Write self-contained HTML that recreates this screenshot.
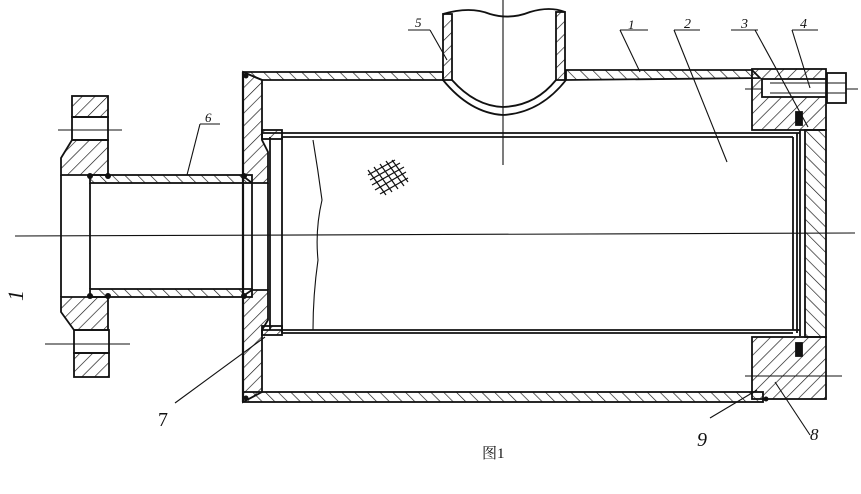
<!DOCTYPE html>
<html><head><meta charset="utf-8"><style>
html,body{margin:0;padding:0;background:#fff;}
svg{display:block}
text{font-family:"Liberation Serif","Noto Serif CJK SC",serif;fill:#111;font-style:italic}
</style></head><body>
<svg width="861" height="494" viewBox="0 0 861 494" xmlns="http://www.w3.org/2000/svg">
<defs>
<pattern id="h1" patternUnits="userSpaceOnUse" width="9" height="9" patternTransform="rotate(45)"><line x1="0" y1="0" x2="0" y2="9" stroke="#111" stroke-width="1.3"/></pattern>
<pattern id="h2" patternUnits="userSpaceOnUse" width="9" height="9" patternTransform="rotate(-45)"><line x1="0" y1="0" x2="0" y2="9" stroke="#111" stroke-width="1.3"/></pattern>
</defs>
<g stroke="#111" stroke-width="1.8" fill="none">
<line x1="15" y1="236" x2="855" y2="233" stroke-width="1.1"/>
<line x1="503" y1="0" x2="503" y2="165" stroke-width="1.1"/>
<line x1="58" y1="130" x2="122" y2="130" stroke-width="1.1"/>
<line x1="45" y1="344" x2="130" y2="344" stroke-width="1.1"/>
<line x1="745" y1="89" x2="858" y2="89" stroke-width="1.1"/>
<line x1="745" y1="376" x2="842" y2="376" stroke-width="1.1"/>

<polygon points="243,72 443,72 443,80 262,80" fill="url(#h2)"/>
<polygon points="566,70 752,70 760,78 566,80" fill="url(#h2)"/>
<rect x="243" y="392" width="520" height="10" fill="url(#h2)"/>
<polygon points="243,72 262,80 262,140 268,152 268,183 252,183 243,176" fill="url(#h1)"/>
<polygon points="243,296 252,290 268,290 268,320 262,330 262,392 243,402" fill="url(#h1)"/>
<line x1="243" y1="72" x2="243" y2="402" stroke-width="2.2"/>
<rect x="90" y="175" width="162" height="8" fill="url(#h2)"/>
<rect x="90" y="289" width="162" height="8" fill="url(#h2)"/>
<line x1="90" y1="183" x2="90" y2="289"/>
<line x1="252" y1="183" x2="252" y2="289"/>
<line x1="268" y1="183" x2="268" y2="290"/>
<rect x="72" y="96" width="36" height="21" fill="url(#h1)"/>
<rect x="72" y="117" width="36" height="23"/>
<polygon points="72,140 108,140 108,175 61,175 61,158" fill="url(#h1)"/>
<line x1="61" y1="175" x2="61" y2="297"/>
<polygon points="61,297 108,297 108,330 74,330 61,312" fill="url(#h1)"/>
<rect x="74" y="330" width="35" height="23"/>
<rect x="74" y="353" width="35" height="24" fill="url(#h1)"/>
<rect x="443" y="14" width="9" height="66" fill="url(#h1)"/>
<rect x="556" y="12" width="9" height="68" fill="url(#h1)"/>
<path d="M443,14 Q470,6 490,14 Q510,20 530,12 Q550,6 565,12"/>
<path d="M443,80 Q470,113 503,115 Q540,113 566,80"/>
<path d="M452,80 Q475,106 503,107 Q535,106 556,80"/>
<line x1="262" y1="133" x2="800" y2="133"/>
<line x1="282" y1="137" x2="793" y2="137"/>
<line x1="262" y1="330" x2="800" y2="330"/>
<line x1="282" y1="333" x2="793" y2="333"/>
<line x1="270" y1="137" x2="270" y2="330"/>
<line x1="282" y1="137" x2="282" y2="333"/>
<line x1="793" y1="137" x2="793" y2="330"/>
<line x1="797" y1="133" x2="797" y2="333"/>
<line x1="800" y1="130" x2="800" y2="336"/>
<path d="M313,140 Q318,170 322,200 Q315,230 318,260 Q313,295 313,330" stroke-width="1.1"/>
<rect x="262" y="130" width="20" height="9" fill="url(#h1)"/>
<rect x="262" y="326" width="20" height="9" fill="url(#h1)"/>
<g stroke-width="1.2">
<line x1="368" y1="175" x2="395" y2="160"/><line x1="370" y1="180" x2="400" y2="163"/><line x1="372" y1="185" x2="404" y2="167"/><line x1="375" y1="190" x2="406" y2="172"/><line x1="380" y1="194" x2="408" y2="178"/>
<line x1="368" y1="170" x2="386" y2="195"/><line x1="374" y1="167" x2="392" y2="192"/><line x1="380" y1="164" x2="398" y2="189"/><line x1="386" y1="161" x2="404" y2="186"/><line x1="392" y1="160" x2="408" y2="182"/>
</g>
<rect x="752" y="69" width="74" height="61" fill="url(#h1)"/>
<rect x="752" y="337" width="74" height="62" fill="url(#h1)"/>
<rect x="805" y="130" width="21" height="207" fill="url(#h2)"/>
<rect x="762" y="79" width="64" height="18" fill="#fff"/>
<line x1="770" y1="83" x2="826" y2="83" stroke-width="1.1"/>
<line x1="770" y1="93" x2="826" y2="93" stroke-width="1.1"/>
<rect x="827" y="73" width="19" height="30" fill="#fff"/>
<line x1="827" y1="83" x2="846" y2="83" stroke-width="1.1"/>
<line x1="827" y1="93" x2="846" y2="93" stroke-width="1.1"/>
<rect x="796" y="112" width="6" height="13" fill="#111"/>
<rect x="796" y="343" width="6" height="13" fill="#111"/>
<g fill="#111" stroke="none">
<circle cx="90" cy="176" r="3"/><circle cx="108" cy="176" r="3"/><circle cx="244" cy="176" r="3"/>
<circle cx="90" cy="296" r="3"/><circle cx="108" cy="296" r="3"/><circle cx="244" cy="296" r="3"/>
<circle cx="246" cy="76" r="2.5"/><circle cx="246" cy="398" r="2.5"/><circle cx="766" cy="399" r="2.5"/>
</g>
<g stroke-width="1.1">
<line x1="408" y1="30" x2="430" y2="30"/><line x1="430" y1="30" x2="447" y2="60"/>
<line x1="200" y1="124" x2="220" y2="124"/><line x1="200" y1="124" x2="187" y2="175"/>
<line x1="620" y1="30" x2="648" y2="30"/><line x1="620" y1="30" x2="640" y2="72"/>
<line x1="674" y1="30" x2="700" y2="30"/><line x1="674" y1="30" x2="727" y2="162"/>
<line x1="731" y1="30" x2="758" y2="30"/><line x1="755" y1="30" x2="808" y2="127"/>
<line x1="792" y1="30" x2="818" y2="30"/><line x1="792" y1="30" x2="810" y2="88"/>
<line x1="175" y1="403" x2="265" y2="337"/>
<line x1="710" y1="418" x2="757" y2="390"/>
<line x1="810" y1="435" x2="775" y2="382"/>
</g>
</g>
<g font-size="16">
<text x="415" y="27" font-size="13">5</text>
<text x="205" y="122" font-size="13">6</text>
<text x="628" y="29" font-size="13">1</text>
<text x="684" y="28" font-size="14">2</text>
<text x="741" y="28" font-size="14">3</text>
<text x="800" y="28" font-size="14">4</text>
<text x="158" y="426" font-size="20" style="font-style:normal">7</text>
<text x="697" y="446" font-size="20">9</text>
<text x="810" y="440" font-size="17">8</text>
<text x="482" y="458" font-size="15" style="font-style:normal">图1</text>
<text x="0" y="0" font-size="22" transform="translate(5,293) rotate(-90) translate(-8,18)">1</text>
</g>
</svg>
</body></html>
